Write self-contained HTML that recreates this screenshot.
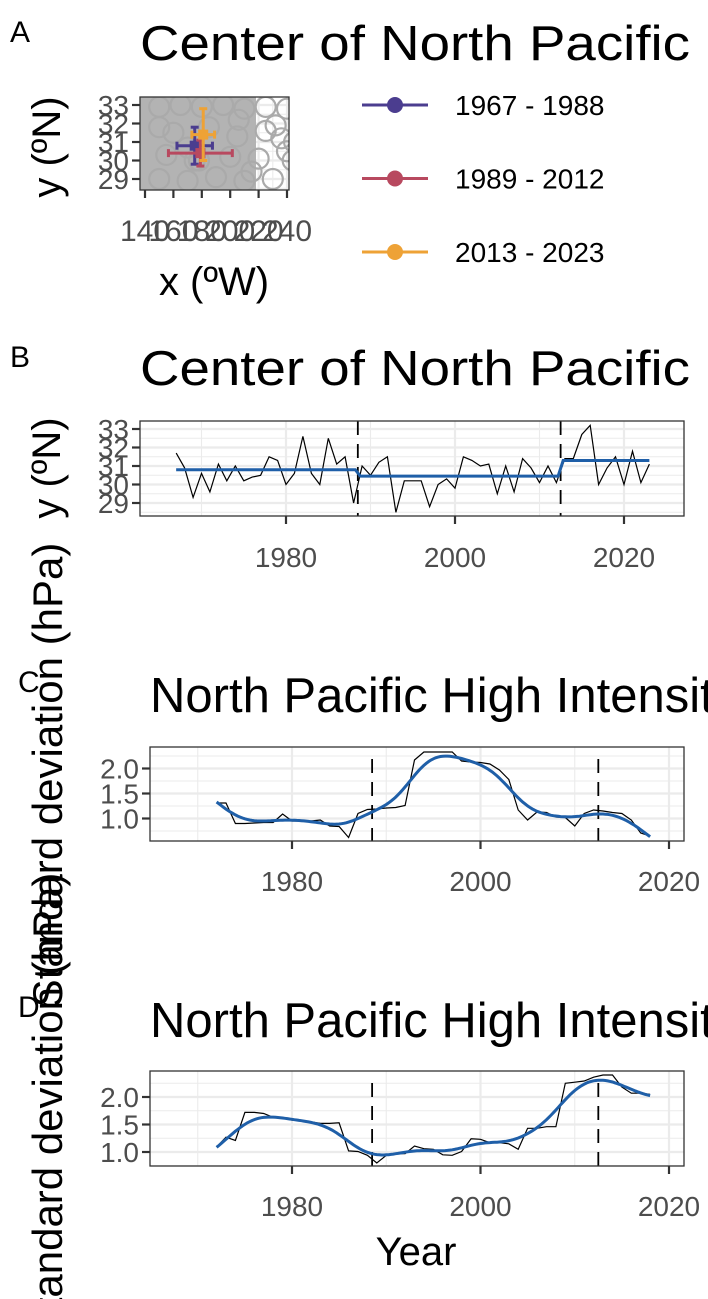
<!DOCTYPE html>
<html><head><meta charset="utf-8"><style>
html,body{margin:0;padding:0;background:#fff}
svg{display:block;font-family:"Liberation Sans",sans-serif}
</style></head><body>
<svg id="fig" width="708" height="1299" viewBox="0 0 708 1299">
<defs><clipPath id="clipA"><rect x="140" y="97" width="149" height="93"/></clipPath></defs>
<g id="root"></g>
</svg>
<script>
// ---------- data ----------
const yearsB = []; for (let y=1967;y<=2023;y++) yearsB.push(y);
const latB = [31.7,30.9,29.3,30.6,29.6,31.1,30.2,31.0,30.2,30.4,30.5,31.5,31.3,30.0,30.6,32.6,30.6,30.0,32.5,31.1,31.5,29.0,
 31.0,30.5,31.2,31.5,28.5,30.2,30.2,30.2,28.8,30.0,30.3,29.8,31.5,31.3,31.0,31.1,29.5,31.0,29.6,31.4,30.9,30.1,31.0,30.1,
 31.4,31.4,32.7,33.2,30.0,30.9,31.5,30.0,31.8,30.1,31.1];
const regimeStart = [1967,1988.5,2012.5];
const regimeEnd = [1988.5,2012.5,2023];
const regimeMean = [30.8,30.45,31.3];
const breakYears = [1988.5,2012.5];
const yearsCD = []; for (let y=1972;y<=2018;y++) yearsCD.push(y);
const sdC = [1.31,1.31,0.90,0.90,0.91,0.92,0.92,1.09,0.95,0.95,0.95,0.97,0.85,0.84,0.62,1.10,1.18,1.19,1.21,1.22,1.26,2.17,2.33,2.33,2.33,2.33,2.15,2.13,2.12,2.09,1.97,1.78,1.17,0.97,1.13,1.12,1.03,1.02,0.85,1.10,1.17,1.15,1.12,1.10,0.97,0.71,0.65];
const sdD = [1.09,1.27,1.21,1.72,1.72,1.70,1.63,1.63,1.58,1.57,1.55,1.52,1.52,1.53,1.02,1.01,0.94,0.80,0.94,0.97,0.97,1.11,1.06,1.05,0.95,0.94,1.01,1.24,1.23,1.17,1.17,1.15,1.05,1.43,1.43,1.46,1.46,2.25,2.27,2.29,2.36,2.40,2.40,2.18,2.07,2.07,2.05];
const periodLabels = ["1967 - 1988","1989 - 2012","2013 - 2023"];
const periodColors = ["#4b3d8f","#b8495f","#eea236"];
const centerX = [175,179,181];
const centerY = [30.8,30.4,31.4];
const errX = [12.5,22.5,8];
const errY = [1.0,0.7,1.4];
const cloudX = [150,165,180,195,210,225,240,150,170,190,210,230,250,160,185,205,225,245,155,175,200,220,240,262,268,275,280,285,150,178,206,232,258,170,215,250,236,244,252];
const cloudY = [32.9,33.0,32.9,33.0,32.8,32.9,32.8,29.0,28.9,29.1,28.9,29.0,29.2,31.5,31.8,31.3,31.6,31.0,30.3,30.0,30.2,30.1,30.5,32.5,31.6,30.4,29.5,32.2,31.8,30.0,32.2,31.9,30.8,30.7,29.4,32.0,31.2,30.0,32.6];
const xTicksA = [140,160,180,200,220,240];
const yTicks = [29,30,31,32,33];
const yearTicks = [1980,2000,2020];
const sdTicks = [1.0,1.5,2.0];

// ---------- helpers ----------
const NS="http://www.w3.org/2000/svg";
const root=document.getElementById('root');
function el(tag,attrs,parent,text){const e=document.createElementNS(NS,tag);for(const k in attrs)e.setAttribute(k,attrs[k]);if(text!==undefined)e.textContent=text;(parent||root).appendChild(e);return e;}
function lin(d0,d1,r0,r1){return v=>r0+(v-d0)*(r1-r0)/(d1-d0);}
const TICKC="#4d4d4d", TF=28;
function gridH(g,x0,x1,sy,vals,major){vals.forEach(v=>{el('line',{x1:x0,x2:x1,y1:sy(v),y2:sy(v),stroke:'#ebebeb','stroke-width':major?2.2:1.1},g);});}
function gridV(g,y0,y1,sx,vals,major){vals.forEach(v=>{el('line',{y1:y0,y2:y1,x1:sx(v),x2:sx(v),stroke:'#ebebeb','stroke-width':major?2.2:1.1},g);});}
function box(g,x,y,w,h){el('rect',{x:x,y:y,width:w,height:h,fill:'none',stroke:'#333','stroke-width':1.3},g);}

// ---------- Panel A ----------
{
const g=el('g',{},root);  
const L=140,R=289,T=97,B=190;
const sx=lin(140,240,145,287), sy=lin(29,33,179,105);
el('rect',{x:L,y:T,width:R-L,height:B-T,fill:'#fff'},g);
gridH(g,L,R,sy,[28.5,29.5,30.5,31.5,32.5],false);gridH(g,L,R,sy,yTicks,true);
gridV(g,T,B,sx,[150,170,190,210,230],false);gridV(g,T,B,sx,xTicksA,true);
const cg=el('g',{'clip-path':'url(#clipA)'},g);
el('rect',{x:L,y:T,width:116,height:B-T,fill:'#b3b3b3'},cg);
cloudX.forEach((x,i)=>{const c=el('circle',{cx:sx(x),cy:sy(cloudY[i]),r:10,fill:'none',stroke:'#aaaaaa','stroke-width':2.2},cg);
});
centerX.forEach((x,i)=>{const eg=el('g',{stroke:periodColors[i],'stroke-width':3},cg);

const cx=sx(x),cy=sy(centerY[i]),dx=errX[i]*1.42,y1=sy(centerY[i]+errY[i]),y2=sy(centerY[i]-errY[i]);
el('line',{x1:cx-dx,x2:cx+dx,y1:cy,y2:cy},eg);el('line',{x1:cx,x2:cx,y1:y1,y2:y2},eg);
el('line',{x1:cx-dx,x2:cx-dx,y1:cy-4,y2:cy+4},eg);el('line',{x1:cx+dx,x2:cx+dx,y1:cy-4,y2:cy+4},eg);
el('line',{x1:cx-4,x2:cx+4,y1:y1,y2:y1},eg);el('line',{x1:cx-4,x2:cx+4,y1:y2,y2:y2},eg);
el('rect',{x:cx-5,y:cy-5,width:10,height:10,fill:periodColors[i],stroke:'none'},eg);});
box(g,L,T,R-L,B-T);
yTicks.forEach(v=>{el('line',{x1:L-8,x2:L,y1:sy(v),y2:sy(v),stroke:'#333','stroke-width':2.2},g);
const t=el('text',{x:L-11,y:sy(v)+10,'text-anchor':'end','font-size':TF,fill:TICKC},g,String(v));});
xTicksA.forEach(v=>{el('line',{x1:sx(v),x2:sx(v),y1:B,y2:B+8,stroke:'#333','stroke-width':2.2},g);
const t=el('text',{x:sx(v),y:B+51,'text-anchor':'middle','font-size':30,fill:TICKC},g,String(v));});
let t=el('text',{x:214,y:295,'text-anchor':'middle','font-size':40},g,'x (ºW)');
t=el('text',{transform:'translate(60,147) rotate(-90)','text-anchor':'middle','font-size':40},g,'y (ºN)');
t=el('text',{x:140,y:60,'font-size':49,textLength:550,lengthAdjust:'spacingAndGlyphs'},g,'Center of North Pacific');
t=el('text',{x:10,y:42,'font-size':30},g,'A');
periodLabels.forEach((lab,i)=>{const lg=el('g',{},g);
const y=105+i*73.5;el('line',{x1:362,x2:428,y1:y,y2:y,stroke:periodColors[i],'stroke-width':3},lg);
el('circle',{cx:395,cy:y,r:8,fill:periodColors[i]},lg);el('text',{x:455,y:y+10,'font-size':28},lg,lab);});
}

// ---------- Panel B ----------
{
const g=el('g',{},root);  
const L=140,R=684,T=421,B=516;
const sx=lin(1980,2020,286,624), sy=lin(29,33,503,429);
el('rect',{x:L,y:T,width:R-L,height:B-T,fill:'#fff'},g);
gridH(g,L,R,sy,[28.5,29.5,30.5,31.5,32.5],false);gridH(g,L,R,sy,yTicks,true);
gridV(g,T,B,sx,[1970,1990,2010],false);gridV(g,T,B,sx,yearTicks,true);
breakYears.forEach(b=>{const d=el('line',{x1:sx(b),x2:sx(b),y1:T,y2:B,stroke:'#000','stroke-width':1.8,'stroke-dasharray':'14,9'},g);});
let pts=yearsB.map((y,i)=>sx(y).toFixed(1)+','+sy(latB[i]).toFixed(1)).join(' ');
let p=el('polyline',{points:pts,fill:'none',stroke:'#000','stroke-width':1.2},g);
let mp=[];regimeStart.forEach((s,i)=>{mp.push(sx(s+(i?0.3:0))+','+sy(regimeMean[i]));mp.push(sx(regimeEnd[i]-(i<2?0.3:0))+','+sy(regimeMean[i]));});
p=el('polyline',{points:mp.join(' '),fill:'none',stroke:'#1f5fa8','stroke-width':3},g);
box(g,L,T,R-L,B-T);
yTicks.forEach(v=>{el('line',{x1:L-8,x2:L,y1:sy(v),y2:sy(v),stroke:'#333','stroke-width':2.2},g);
const t=el('text',{x:L-11,y:sy(v)+10,'text-anchor':'end','font-size':TF,fill:TICKC},g,String(v));});
yearTicks.forEach(v=>{el('line',{x1:sx(v),x2:sx(v),y1:B,y2:B+8,stroke:'#333','stroke-width':2.2},g);
const t=el('text',{x:sx(v),y:B+51,'text-anchor':'middle','font-size':TF,fill:TICKC},g,String(v));});
let t=el('text',{transform:'translate(60,468) rotate(-90)','text-anchor':'middle','font-size':40},g,'y (ºN)');
t=el('text',{x:140,y:385,'font-size':49,textLength:550,lengthAdjust:'spacingAndGlyphs'},g,'Center of North Pacific');
t=el('text',{x:10,y:367,'font-size':30},g,'B');
}

// ---------- Panels C & D ----------
function panelSD(name,letter,T,B,yAt1,yAt2,data,letterY,titleY,labelCY){
const g=el('g',{},root);  
const L=150,R=684;
const sx=lin(1980,2020,292,669), sy=lin(1,2,yAt1,yAt2);
el('rect',{x:L,y:T,width:R-L,height:B-T,fill:'#fff'},g);
gridH(g,L,R,sy,[0.75,1.25,1.75,2.25],false);gridH(g,L,R,sy,sdTicks,true);
gridV(g,T,B,sx,[1970,1990,2010],false);gridV(g,T,B,sx,yearTicks,true);
breakYears.forEach(b=>{const d=el('line',{x1:sx(b),x2:sx(b),y1:T+12,y2:B,stroke:'#000','stroke-width':1.8,'stroke-dasharray':'14,9'},g);});
let pts=yearsCD.map((y,i)=>sx(y).toFixed(1)+','+sy(data[i]).toFixed(1)).join(' ');
let p=el('polyline',{points:pts,fill:'none',stroke:'#000','stroke-width':1.2},g);
const fine=[];for(let y=yearsCD[0];y<=yearsCD[yearsCD.length-1]+1e-9;y+=0.25)fine.push(y);
const sm=fine.map(x0=>{let sw=0,sx1=0,sy1=0,sxx=0,sxy=0;yearsCD.forEach((x,i)=>{const k=Math.exp(-0.5*((x-x0)/1.9)**2);const d=x-x0;sw+=k;sx1+=k*d;sy1+=k*data[i];sxx+=k*d*d;sxy+=k*d*data[i];});return (sxx*sy1-sx1*sxy)/(sw*sxx-sx1*sx1);});
p=el('polyline',{points:fine.map((y,i)=>sx(y).toFixed(1)+','+sy(sm[i]).toFixed(1)).join(' '),fill:'none',stroke:'#1f5fa8','stroke-width':3},g);
box(g,L,T,R-L,B-T);
sdTicks.forEach(v=>{el('line',{x1:L-8,x2:L,y1:sy(v),y2:sy(v),stroke:'#333','stroke-width':2.2},g);
const t=el('text',{x:L-11,y:sy(v)+10,'text-anchor':'end','font-size':TF,fill:TICKC},g,v.toFixed(1));});
yearTicks.forEach(v=>{el('line',{x1:sx(v),x2:sx(v),y1:B,y2:B+8,stroke:'#333','stroke-width':2.2},g);
const t=el('text',{x:sx(v),y:B+50,'text-anchor':'middle','font-size':TF,fill:TICKC},g,String(v));});
let t=el('text',{x:150,y:titleY,'font-size':49},g,'North Pacific High Intensity');
t=el('text',{x:18,y:letterY,'font-size':30},g,letter);
t=el('text',{transform:'translate(62,'+labelCY+') rotate(-90)','text-anchor':'middle','font-size':42},g,'Standard deviation (hPa)');
}
panelSD('panel-c','C',747,841,818.5,768.5,sdC,692,712,775);
panelSD('panel-d','D',1071,1166,1152,1097,sdD,1017,1037,1105);
let yt=el('text',{x:416,y:1265,'text-anchor':'middle','font-size':40},root,'Year');


</script>
</body></html>
